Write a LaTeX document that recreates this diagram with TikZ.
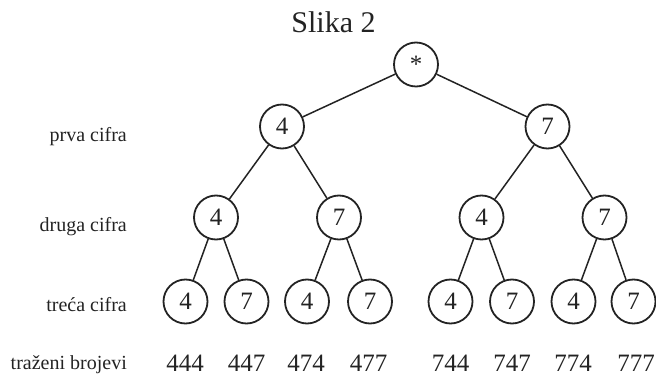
\documentclass[tikz,border=0pt]{standalone}
\usepackage{fontspec}
\setmainfont{Liberation Serif}
\definecolor{ink}{RGB}{35,35,35}
\begin{document}
\begin{tikzpicture}[x=1pt,y=-1pt,
  dig/.style={circle,draw=ink,line width=1.8pt,minimum size=44pt,inner sep=0pt,
    font=\fontsize{25}{30}\selectfont,text=ink},
  lbl/.style={anchor=base east,inner sep=0pt,font=\fontsize{20}{24}\selectfont,text=ink},
  num/.style={anchor=base,inner sep=0pt,font=\fontsize{25}{30}\selectfont,text=ink},
  ttl/.style={anchor=base,inner sep=0pt,font=\fontsize{30}{36}\selectfont,text=ink},
  link/.style={draw=ink,line width=1.5pt}]
\useasboundingbox (0,0) rectangle (656,379);
% title
\node[ttl] (title) at (333.5,32.3) {Slika 2};
% tree
\node[dig] (r) at (416,64.5) {\raisebox{-3pt}{*}};
\node[dig] (a) at (282,126.5) {4};
\node[dig] (b) at (547.5,126.5) {7};
\node[dig] (aa) at (216,217.5) {4};
\node[dig] (ab) at (339,217.5) {7};
\node[dig] (ba) at (481.5,217.5) {4};
\node[dig] (bb) at (604.5,217.5) {7};
\node[dig] (aaa) at (185.5,301.5) {4};
\node[dig] (aab) at (246.5,301.5) {7};
\node[dig] (aba) at (307,301.5) {4};
\node[dig] (abb) at (370,301.5) {7};
\node[dig] (baa) at (450.5,301.5) {4};
\node[dig] (bab) at (512,301.5) {7};
\node[dig] (bba) at (573.5,301.5) {4};
\node[dig] (bbb) at (633.5,301.5) {7};
% connectors
\path[link] (r) -- (a);
\path[link] (r) -- (b);
\path[link] (a) -- (aa);
\path[link] (a) -- (ab);
\path[link] (b) -- (ba);
\path[link] (b) -- (bb);
\path[link] (aa) -- (aaa);
\path[link] (aa) -- (aab);
\path[link] (ab) -- (aba);
\path[link] (ab) -- (abb);
\path[link] (ba) -- (baa);
\path[link] (ba) -- (bab);
\path[link] (bb) -- (bba);
\path[link] (bb) -- (bbb);
% row labels
\node[lbl] (l1) at (127,142) {prva cifra};
\node[lbl] (l2) at (127,232) {druga cifra};
\node[lbl] (l3) at (127,312) {treća cifra};
\node[lbl] (l4) at (127,370) {traženi brojevi};
% numbers
\node[num] (n1) at (185,371) {444};
\node[num] (n2) at (246.5,371) {447};
\node[num] (n3) at (306,371) {474};
\node[num] (n4) at (368.5,371) {477};
\node[num] (n5) at (450.5,371) {744};
\node[num] (n6) at (512,371) {747};
\node[num] (n7) at (573,371) {774};
\node[num] (n8) at (636,371) {777};
\end{tikzpicture}
\end{document}
